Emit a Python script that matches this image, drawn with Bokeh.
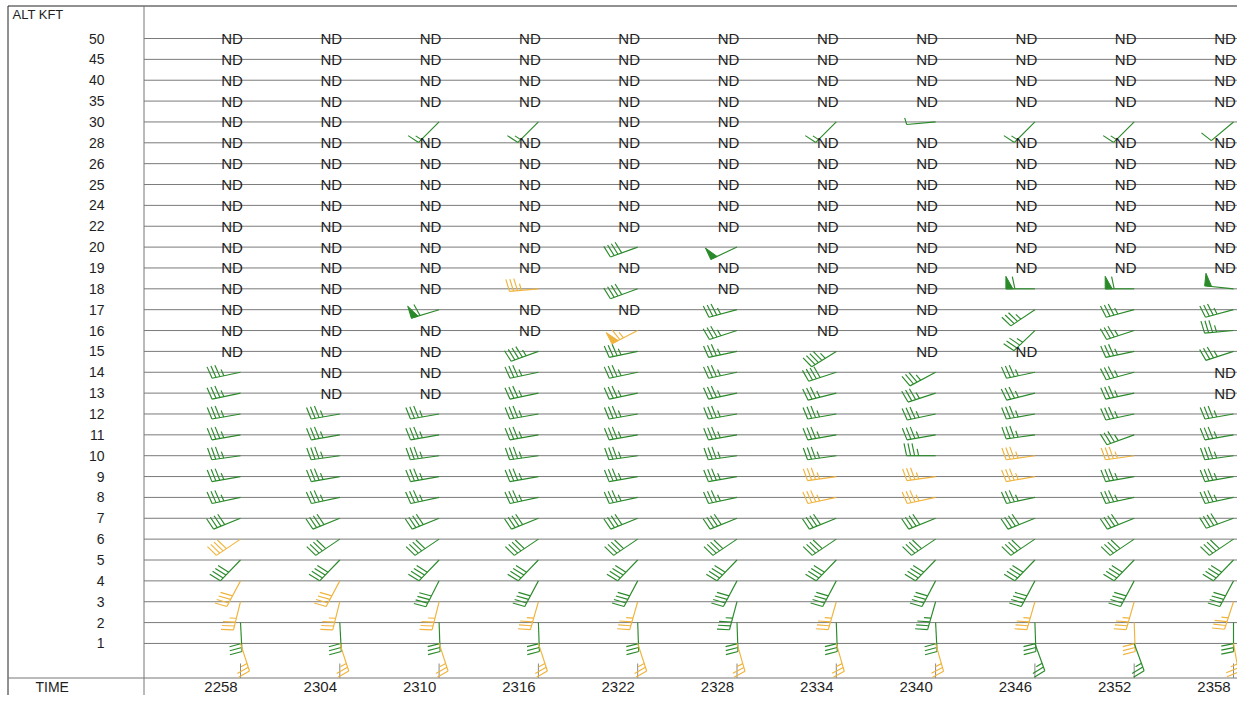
import math
from bokeh.plotting import figure
from bokeh.models import Range1d
from bokeh.core.properties import value
from bokeh.embed import file_html
from bokeh.resources import INLINE

# ---------------- data ----------------
TIMES = ["2258", "2304", "2310", "2316", "2322", "2328", "2334", "2340", "2346", "2352", "2358"]
ALTS = ["50", "45", "40", "35", "30", "28", "26", "25", "24", "22", "20", "19", "18", "17", "16",
        "15", "14", "13", "12", "11", "10", "9", "8", "7", "6", "5", "4", "3", "2", "1"]

# one entry per altitude (top to bottom): "ND" = no data, else colour code + direction/speed (kt)
# g = green, y = yellow
C2258 = ["ND", "ND", "ND", "ND", "ND", "ND", "ND", "ND", "ND", "ND",
         "ND", "ND", "ND", "ND", "ND", "ND", "g258/35", "g258/35", "g260/35", "g260/35",
         "g262/35", "g260/35", "g258/35", "g248/40", "y236/40", "g224/40", "y208/40", "y194/35", "g177/30", "y162/25"]
C2304 = ["ND", "ND", "ND", "ND", "ND", "ND", "ND", "ND", "ND", "ND",
         "ND", "ND", "ND", "ND", "ND", "ND", "ND", "ND", "g260/35", "g260/35",
         "g262/35", "g260/35", "g258/35", "g248/40", "g236/40", "g224/40", "y208/40", "y194/35", "g177/30", "y162/25"]
C2310 = ["ND", "ND", "ND", "ND", "g225/15", "ND", "ND", "ND", "ND", "ND",
         "ND", "ND", "ND", "g253/60", "ND", "ND", "ND", "ND", "g260/35", "g260/35",
         "g262/35", "g260/35", "g258/35", "g248/40", "g236/40", "g224/40", "g207/40", "y194/35", "g178/30", "y162/25"]
C2316 = ["ND", "ND", "ND", "ND", "g225/15", "ND", "ND", "ND", "ND", "ND",
         "ND", "ND", "y265/35", "ND", "ND", "g250/45", "g258/35", "g258/35", "g260/35", "g260/35",
         "g262/35", "g260/35", "g258/35", "g248/40", "g236/40", "g224/40", "g208/40", "y196/35", "g178/30", "y162/25"]
C2322 = ["ND", "ND", "ND", "ND", "ND", "ND", "ND", "ND", "ND", "ND",
         "g250/40", "ND", "g250/40", "ND", "y243/65", "g258/35", "g258/35", "g258/35", "g260/35", "g260/35",
         "g262/35", "g260/35", "g258/35", "g248/40", "g236/40", "g224/40", "g208/40", "y196/35", "g178/30", "y162/25"]
C2328 = ["ND", "ND", "ND", "ND", "ND", "ND", "ND", "ND", "ND", "ND",
         "g245/50", "ND", "ND", "g255/35", "g252/35", "g258/35", "g258/35", "g258/35", "g260/35", "g260/35",
         "g262/35", "g260/35", "g258/35", "g248/40", "g236/40", "g224/40", "g208/40", "g195/35", "g178/30", "y164/25"]
C2334 = ["ND", "ND", "ND", "ND", "g225/15", "ND", "ND", "ND", "ND", "ND",
         "ND", "ND", "ND", "ND", "ND", "g238/45", "g252/40", "g256/35", "g260/35", "g260/35",
         "g262/35", "y262/35", "y258/35", "g248/40", "g236/40", "g224/40", "g208/40", "y196/35", "g178/30", "y164/25"]
C2340 = ["ND", "ND", "ND", "ND", "g265/5", "ND", "ND", "ND", "ND", "ND",
         "ND", "ND", "ND", "ND", "ND", "ND", "g242/35", "g252/35", "g258/35", "g260/35",
         "g270/35", "y262/35", "y258/35", "g248/40", "g236/40", "g224/40", "g208/40", "g196/35", "g177/30", "y164/25"]
C2346 = ["ND", "ND", "ND", "ND", "g225/15", "ND", "ND", "ND", "ND", "ND",
         "ND", "ND", "g270/60", "g236/35", "g226/35", "ND", "g258/35", "g256/35", "g260/35", "g262/35",
         "y262/35", "y260/35", "g258/35", "g248/40", "g236/40", "g224/40", "g208/40", "y196/35", "g178/30", "g160/25"]
C2352 = ["ND", "ND", "ND", "ND", "g225/15", "ND", "ND", "ND", "ND", "ND",
         "ND", "ND", "g270/60", "g255/35", "g252/35", "g258/35", "g255/35", "g258/35", "g258/35", "g250/35",
         "y262/35", "g260/35", "g258/35", "g248/40", "g236/40", "g224/40", "g208/40", "y196/35", "y178/30", "g160/25"]
C2358 = ["ND", "ND", "ND", "ND", "g230/10", "ND", "ND", "ND", "ND", "ND",
         "ND", "ND", "g276/50", "g255/35", "g265/35", "g252/35", "ND", "ND", "g260/35", "g260/35",
         "g262/35", "g260/35", "g258/35", "g250/40", "g236/40", "g224/40", "g208/40", "y198/35", "g180/30", "y170/25"]
COLUMNS = [C2258, C2304, C2310, C2316, C2322, C2328, C2334, C2340, C2346, C2352, C2358]

# ---------------- styling / layout (pixels inside the figure) ----------------
GREEN = "#2a8a2a"
YELLOW = "#f0b43c"
TEXT = "#1e1e1e"
GRID = "#7a7a7a"
FONT = value("Liberation Sans")

W, H = 1237, 695
PX_X = 99.3       # pixels per time column
PX_Y = 20.86      # pixels per altitude row
X_ORIGIN = 240.0  # pixel of first station
Y_ORIGIN = 38.0   # pixel of first altitude row


def dx(px):
    return (px - X_ORIGIN) / PX_X


def dy(py):
    return (py - Y_ORIGIN) / PX_Y


x_lo, x_hi = dx(0), dx(W)
y_top, y_bot = dy(0), dy(H)

p = figure(width=W, height=H, x_range=Range1d(x_lo, x_hi), y_range=Range1d(y_bot, y_top),
           output_backend="svg", toolbar_location=None, min_border=0,
           x_axis_location=None, y_axis_location=None)
p.grid.visible = False
p.outline_line_color = None
p.background_fill_color = "white"
p.border_fill_color = "white"

n_rows = len(ALTS)
ncol = len(TIMES)
div_x = dx(143.5)
bottom_k = dy(677.5)
time_k = dy(686)

# borders
p.segment(x0=[dx(7.5)], y0=[dy(5.5)], x1=[dx(7.5)], y1=[y_bot], line_color="#222222", line_width=1)
p.segment(x0=[dx(7.5)], y0=[dy(5.5)], x1=[x_hi], y1=[dy(5.5)], line_color="#222222", line_width=1)
p.segment(x0=[div_x], y0=[dy(5.5)], x1=[div_x], y1=[y_bot], line_color="#777777", line_width=1)
p.segment(x0=[dx(7.5)], y0=[bottom_k], x1=[x_hi], y1=[bottom_k], line_color="#777777", line_width=1)

# altitude row lines
ks = list(range(n_rows))
p.segment(x0=[div_x] * n_rows, y0=ks, x1=[x_hi] * n_rows, y1=ks, line_color=GRID, line_width=1)

# time ticks at bottom
p.segment(x0=list(range(ncol)), y0=[dy(663)] * ncol, x1=list(range(ncol)),
          y1=[bottom_k] * ncol, line_color="#888888", line_width=1)

# ---------------- barbs ----------------
L = 29.0
BL = 12.5
GAP = 4.0
LEAN = math.radians(12)
FLAGW = 7.0

sx0, sy0, sx1, sy1, sc = [], [], [], [], []
fxs, fys, fc = [], [], []
nd_x, nd_y = [], []

for i, col in enumerate(COLUMNS):
    for k, cell in enumerate(col):
        if cell == "ND":
            nd_x.append(i - 8.5 / PX_X)
            nd_y.append(k)
            continue
        color = GREEN if cell[0] == "g" else YELLOW
        d, s = cell[1:].split("/")
        th = math.radians(float(d))
        spd = int(s)
        ux, uy = math.sin(th), -math.cos(th)
        vx, vy = math.cos(th), math.sin(th)

        def to_d(px, py, i=i, k=k):
            return i + px / PX_X, k + py / PX_Y

        ex, ey = L * ux, L * uy
        a = to_d(0, 0)
        b = to_d(ex, ey)
        sx0.append(a[0]); sy0.append(a[1]); sx1.append(b[0]); sy1.append(b[1]); sc.append(color)
        rem = int(round(spd / 5.0)) * 5
        pos = 0.0
        while rem >= 50:
            bx, by = ex - pos * ux, ey - pos * uy
            tx, ty = bx + BL * vx, by + BL * vy
            cx, cy = bx - FLAGW * ux, by - FLAGW * uy
            pts = [to_d(bx, by), to_d(tx, ty), to_d(cx, cy)]
            fxs.append([q[0] for q in pts]); fys.append([q[1] for q in pts]); fc.append(color)
            pos += FLAGW + 2.0
            rem -= 50
        while rem >= 10:
            bx, by = ex - pos * ux, ey - pos * uy
            tx = bx + BL * (math.cos(LEAN) * vx + math.sin(LEAN) * ux)
            ty = by + BL * (math.cos(LEAN) * vy + math.sin(LEAN) * uy)
            q0, q1 = to_d(bx, by), to_d(tx, ty)
            sx0.append(q0[0]); sy0.append(q0[1]); sx1.append(q1[0]); sy1.append(q1[1]); sc.append(color)
            pos += GAP
            rem -= 10
        if rem >= 5:
            bx, by = ex - pos * ux, ey - pos * uy
            hl = BL * 0.55
            tx = bx + hl * (math.cos(LEAN) * vx + math.sin(LEAN) * ux)
            ty = by + hl * (math.cos(LEAN) * vy + math.sin(LEAN) * uy)
            q0, q1 = to_d(bx, by), to_d(tx, ty)
            sx0.append(q0[0]); sy0.append(q0[1]); sx1.append(q1[0]); sy1.append(q1[1]); sc.append(color)

p.segment(x0=sx0, y0=sy0, x1=sx1, y1=sy1, line_color=sc, line_width=1.15)
p.patches(xs=fxs, ys=fys, fill_color=fc, line_color=fc, line_width=1)

# ---------------- texts ----------------
p.text(x=nd_x, y=nd_y, text=["ND"] * len(nd_x), text_align="center", text_baseline="middle",
       text_font=FONT, text_font_size="15px", text_color=TEXT)

p.text(x=[dx(104)] * n_rows, y=ks, text=ALTS, text_align="right", text_baseline="middle",
       text_font=FONT, text_font_size="14px", text_color=TEXT)

p.text(x=[dx(12)], y=[dy(14)], text=["ALT KFT"], text_align="left", text_baseline="middle",
       text_font=FONT, text_font_size="13px", text_color=TEXT)

p.text(x=[dx(35)], y=[time_k], text=["TIME"], text_align="left", text_baseline="middle",
       text_font=FONT, text_font_size="14px", text_color=TEXT)

p.text(x=[i - 19.5 / PX_X for i in range(ncol)], y=[time_k] * ncol, text=TIMES, text_align="center",
       text_baseline="middle", text_font=FONT, text_font_size="15px", text_color=TEXT)

open("out.html", "w").write(file_html(p, INLINE))
